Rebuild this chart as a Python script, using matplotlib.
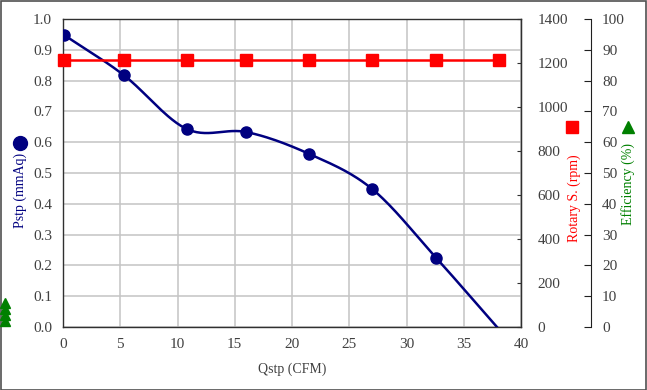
import numpy as np
import matplotlib
matplotlib.use('Agg')
import matplotlib.pyplot as plt
from matplotlib.lines import Line2D

plt.rcParams['font.family'] = ['Liberation Serif', 'DejaVu Serif']

# data
q_pts = [0.1, 5.3, 10.8, 16.0, 21.5, 27.0, 32.6]
pstp = [0.948, 0.818, 0.643, 0.633, 0.562, 0.448, 0.224]
q_end = 37.9  # curve reaches zero here (no marker)
q_rpm = [0.1, 5.3, 10.8, 16.0, 21.5, 27.0, 32.6, 38.1]
rpm = [1215, 1215, 1215, 1215, 1215, 1215, 1215, 1215]

x_ticks = [0, 5, 10, 15, 20, 25, 30, 35, 40]
p_ticks = [0.0, 0.1, 0.2, 0.3, 0.4, 0.5, 0.6, 0.7, 0.8, 0.9, 1.0]
rpm_ticks = [0, 200, 400, 600, 800, 1000, 1200, 1400]
eff_ticks = [0, 10, 20, 30, 40, 50, 60, 70, 80, 90, 100]

navy = '#000080'
red = '#ff0000'
green = '#008000'
txt = '#404040'


def catmull(xs, ys, n=30):
    xs = np.asarray(xs, float)
    ys = np.asarray(ys, float)
    px = np.concatenate([[2 * xs[0] - xs[1]], xs, [2 * xs[-1] - xs[-2]]])
    py = np.concatenate([[2 * ys[0] - ys[1]], ys, [2 * ys[-1] - ys[-2]]])
    ox, oy = [], []
    for i in range(1, len(px) - 2):
        t = np.linspace(0, 1, n, endpoint=False)
        for arr, out in ((px, ox), (py, oy)):
            p0, p1, p2, p3 = arr[i - 1], arr[i], arr[i + 1], arr[i + 2]
            out.extend(0.5 * ((2 * p1) + (-p0 + p2) * t
                              + (2 * p0 - 5 * p1 + 4 * p2 - p3) * t ** 2
                              + (-p0 + 3 * p1 - 3 * p2 + p3) * t ** 3))
    ox.append(xs[-1])
    oy.append(ys[-1])
    return np.array(ox), np.array(oy)


fig = plt.figure(figsize=(6.47, 3.9), dpi=100)
W, H = 647, 390
ax = fig.add_axes([63 / W, 1 - 327 / H, (521 - 63) / W, (327 - 19) / H])

ax.set_xlim(0, 40)
ax.set_ylim(0, 1.0)
ax.set_xticks(x_ticks)
ax.set_yticks(p_ticks)
ax.set_yticklabels([f'{v:.1f}' for v in p_ticks])
ax.grid(True, color='#c4c4c4', linewidth=1.1)
ax.set_axisbelow(True)
ax.tick_params(length=0, labelsize=11, labelcolor=txt, pad=8)
for s in ax.spines.values():
    s.set_color('#303030')
    s.set_linewidth(1)

cx, cy = catmull(q_pts + [q_end], pstp + [0.0])
ax.plot(cx, cy, color=navy, linewidth=1.8, zorder=3)
ax.plot(q_pts, pstp, 'o', color=navy, markersize=8, zorder=4)
ax.set_xlabel('Qstp (CFM)', fontsize=10, color=txt, labelpad=8)

ax2 = ax.twinx()
ax2.set_ylim(0, 1400)
ax2.set_yticks(rpm_ticks)
ax2.tick_params(direction='in', length=3, color='#303030', labelsize=11,
                labelcolor=txt, pad=12)
for k in ('left', 'top', 'bottom'):
    ax2.spines[k].set_visible(False)
ax2.spines['right'].set_color('#303030')
ax2.plot(q_rpm, rpm, color=red, linewidth=1.8, marker='s', markersize=8,
         zorder=3, clip_on=False)

ax3 = ax.twinx()
ax3.set_ylim(0, 100)
ax3.set_yticks(eff_ticks)
ax3.spines['right'].set_position(('axes', (591 - 63) / 458))
for k in ('left', 'top', 'bottom'):
    ax3.spines[k].set_visible(False)
ax3.spines['right'].set_color('#202020')
ax3.tick_params(direction='in', length=5, labelsize=11, labelcolor=txt, pad=8,
                color='#202020')

# axis titles with marker keys
fig.text(20 / W, 1 - 190 / H, 'Pstp (mmAq)', rotation=90, color=navy,
         fontsize=10, ha='center', va='center')
fig.text(574 / W, 1 - 198 / H, 'Rotary S. (rpm)', rotation=90, color=red,
         fontsize=10, ha='center', va='center')
fig.text(628 / W, 1 - 184 / H, 'Efficiency (%)', rotation=90, color=green,
         fontsize=10, ha='center', va='center')
fig.add_artist(Line2D([20 / W], [1 - 143 / H], marker='o', color=navy,
                      markersize=10, transform=fig.transFigure))
fig.add_artist(Line2D([572 / W], [1 - 127 / H], marker='s', color=red,
                      markersize=9, transform=fig.transFigure))
fig.add_artist(Line2D([628 / W], [1 - 127 / H], marker='^', color=green,
                      markersize=9, transform=fig.transFigure))
for yy in [303, 309, 315, 321]:
    fig.add_artist(Line2D([5 / W], [1 - yy / H], marker='^', color=green,
                          markersize=7, transform=fig.transFigure))

fig.add_artist(plt.Rectangle((0.5 / W, 0.5 / H), 1 - 1.5 / W, 1 - 1.5 / H,
                             fill=False, edgecolor='#505050', linewidth=1.2,
                             transform=fig.transFigure))

fig.savefig('out.png', dpi=100)
